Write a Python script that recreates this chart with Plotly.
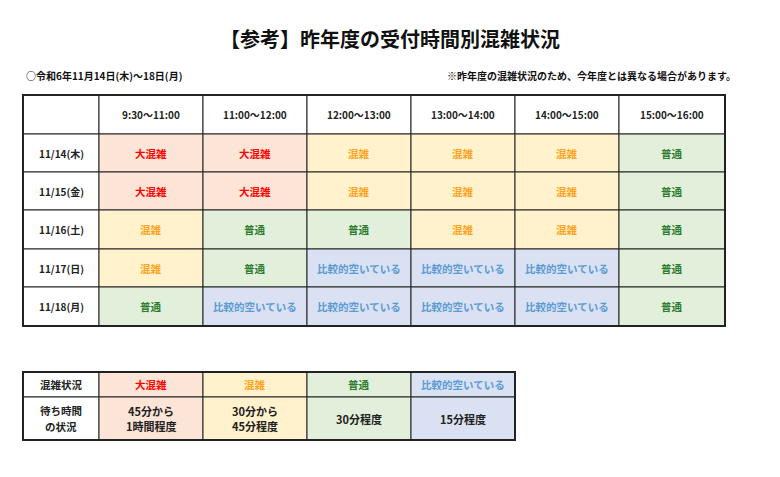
import plotly.graph_objects as go

title = "【参考】昨年度の受付時間別混雑状況"
subtitle_left = "○令和6年11月14日(木)～18日(月)"
subtitle_right = "※昨年度の混雑状況のため、今年度とは異なる場合があります。"
time_slots = ["9:30～11:00", "11:00～12:00", "12:00～13:00", "13:00～14:00", "14:00～15:00", "15:00～16:00"]
days = ["11/14(木)", "11/15(金)", "11/16(土)", "11/17(日)", "11/18(月)"]
status = [
    [0, 0, 1, 1, 1, 2],
    [0, 0, 1, 1, 1, 2],
    [1, 2, 2, 1, 1, 2],
    [1, 2, 3, 3, 3, 2],
    [2, 3, 3, 3, 3, 2],
]
levels = ["大混雑", "混雑", "普通", "比較的空いている"]
waits = ["45分から<br>1時間程度", "30分から<br>45分程度", "30分程度", "15分程度"]
legend_head = ["混雑状況", "待ち時間<br>の状況"]

bg = ["#fce4d6", "#fff2cc", "#e2efda", "#d9e1f2"]
fg = ["#ff0000", "#ffa21f", "#2e7d32", "#5b9bd5"]
FONT = "Noto Sans CJK JP"

xs = [23, 99, 203, 307, 411, 515, 619, 725]
ys = [95, 134, 172, 210, 249, 287, 326]
lxs = [23, 99, 203, 307, 411, 515]
lys = [372, 397, 440]

shapes, ann = [], []
def cell(x0, x1, y0, y1, fill, text, color, size=10.5):
    shapes.append(dict(type="rect", xref="x", yref="y", x0=x0, x1=x1, y0=y0, y1=y1,
                       fillcolor=fill, line=dict(color="#222", width=1), layer="below"))
    lines = text.split("<br>")
    n = len(lines)
    step = size * 1.45
    for k, ln in enumerate(lines):
        ann.append(dict(xref="x", yref="y", x=(x0 + x1) / 2,
                        y=(y0 + y1) / 2 + (k - (n - 1) / 2) * step, text=ln, showarrow=False,
                        font=dict(family=FONT, size=size, color=color, weight="bold")))

cell(xs[0], xs[1], ys[0], ys[1], "white", "", "#222")
for j, t in enumerate(time_slots):
    cell(xs[j + 1], xs[j + 2], ys[0], ys[1], "white", t, "#222", 10)
for i, d in enumerate(days):
    cell(xs[0], xs[1], ys[i + 1], ys[i + 2], "white", d, "#222", 10)
    for j, s in enumerate(status[i]):
        cell(xs[j + 1], xs[j + 2], ys[i + 1], ys[i + 2], bg[s], levels[s], fg[s])
for r in range(2):
    cell(lxs[0], lxs[1], lys[r], lys[r + 1], "white", legend_head[r], "#222", 10.5)
for k in range(4):
    cell(lxs[k + 1], lxs[k + 2], lys[0], lys[1], bg[k], levels[k], fg[k])
    cell(lxs[k + 1], lxs[k + 2], lys[1], lys[2], bg[k], waits[k], "#222", 11)
shapes.append(dict(type="rect", xref="x", yref="y", x0=xs[0], x1=xs[-1], y0=ys[0], y1=ys[-1],
                   line=dict(color="#222", width=2)))
shapes.append(dict(type="rect", xref="x", yref="y", x0=lxs[0], x1=lxs[-1], y0=lys[0], y1=lys[-1],
                   line=dict(color="#222", width=2)))

ann.append(dict(xref="x", yref="y", x=390, y=38, text=title, showarrow=False,
                font=dict(family=FONT, size=20, color="#111", weight="bold")))
ann.append(dict(xref="x", yref="y", x=24, y=75, text=subtitle_left, showarrow=False, xanchor="left",
                font=dict(family=FONT, size=10, color="#111", weight="bold")))
ann.append(dict(xref="x", yref="y", x=738, y=75, text=subtitle_right, showarrow=False, xanchor="right",
                font=dict(family=FONT, size=10, color="#111", weight="bold")))

fig = go.Figure()
fig.update_layout(width=780, height=477, margin=dict(l=0, r=0, t=0, b=0),
                  plot_bgcolor="white", paper_bgcolor="white", shapes=shapes, annotations=ann,
                  xaxis=dict(range=[8, 788], visible=False, fixedrange=True),
                  yaxis=dict(range=[485, 8], visible=False, fixedrange=True), showlegend=False)
fig.write_html("out.html")
